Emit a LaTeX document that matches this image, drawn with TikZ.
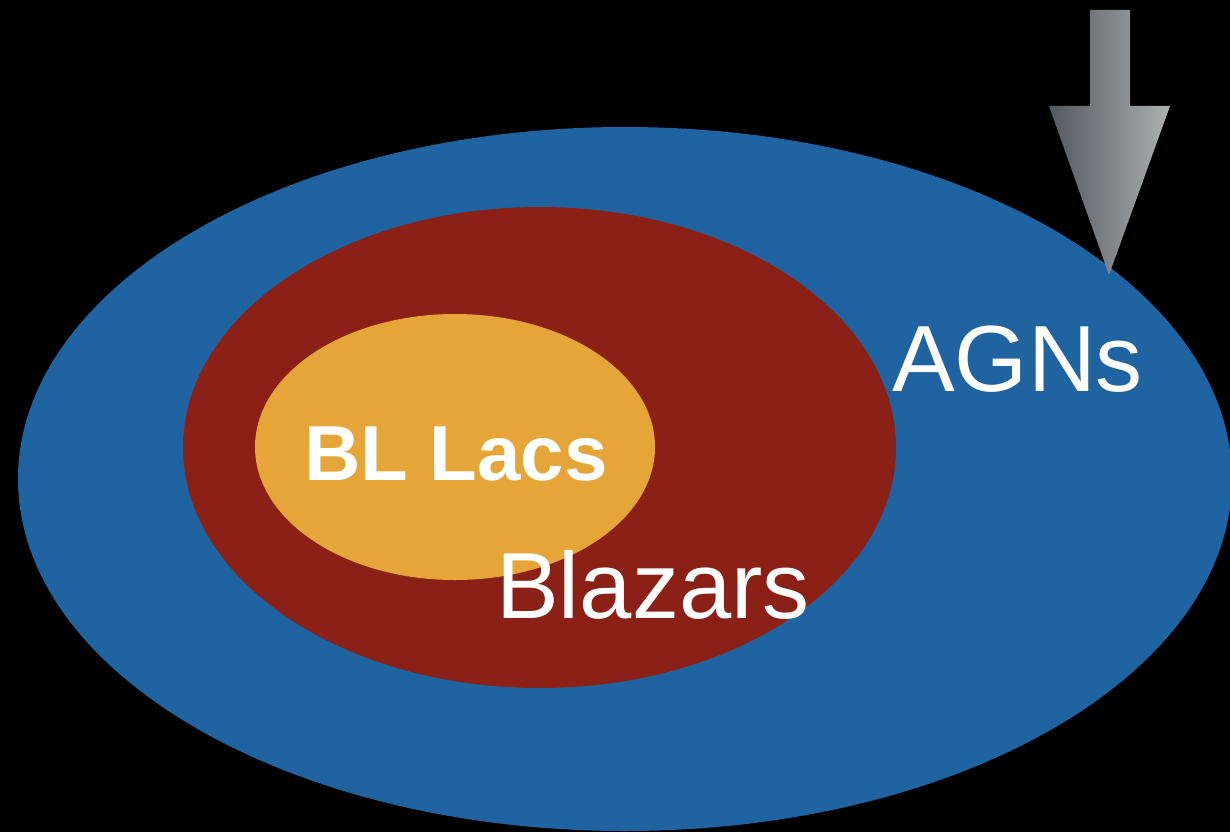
\documentclass[tikz,border=0pt]{standalone}
\usepackage{fontspec}
\setmainfont{Liberation Sans}
\usetikzlibrary{shapes.geometric}
\definecolor{agnblue}{RGB}{31,100,160}
\definecolor{blazred}{RGB}{139,33,22}
\definecolor{lacorange}{RGB}{229,165,56}
\definecolor{arrowdark}{RGB}{84,88,96}
\definecolor{arrowlight}{RGB}{172,176,174}
\begin{document}
\begin{tikzpicture}[x=1pt,y=-1pt,
  blob/.style={ellipse,draw=none,inner sep=0pt,minimum width=#1},
  label/.style={text=white,inner sep=0pt,anchor=base west}]
\fill[black] (0,0) rectangle (1230,832);
\useasboundingbox (0,0) rectangle (1230,832);
% nested classes
\begin{scope}
\clip (0,0) rectangle (1230,832);
\node[blob=1214pt,minimum height=704pt,fill=agnblue] (agn) at (625,479) {};
\end{scope}
\node[blob=713pt,minimum height=481pt,fill=blazred] (blz) at (539.5,447.5) {};
\node[blob=400pt,minimum height=266pt,fill=lacorange] (bll) at (455,447) {};
% labels
\node[label,font=\fontsize{94}{94}\selectfont] (tagn) at (892,391) {AGNs};
\node[label,font=\fontsize{94}{94}\selectfont] (tblz) at (496,618) {Blazars};
\node[label,font=\bfseries\fontsize{78}{78}\selectfont] (tbll) at (304,480) {BL Lacs};
% pointer arrow
\shade[left color=arrowdark,right color=arrowlight]
  (1090,10) -- (1130,10) -- (1130,106) -- (1170,106) -- (1109,275)
  -- (1049,106) -- (1090,106) -- cycle;
\end{tikzpicture}
\end{document}
